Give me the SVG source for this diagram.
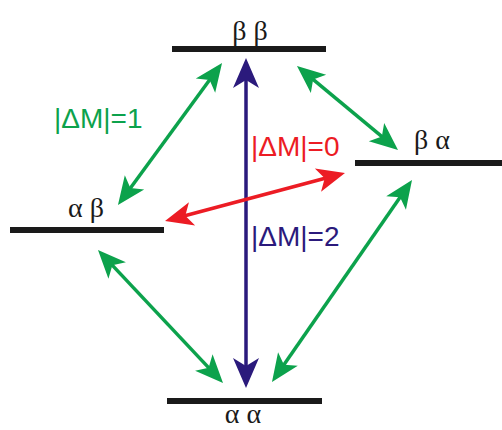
<svg xmlns="http://www.w3.org/2000/svg" width="502" height="430" viewBox="0 0 502 430">
<style>
.lvl{stroke:#1a1a1a;stroke-width:6;}
.st{font-family:"Liberation Serif",serif;font-size:28px;fill:#1a1a1a;text-anchor:middle;}
.lab{font-family:"Liberation Sans",Arial,sans-serif;font-size:28px;}
.g{stroke:#0ca24c;stroke-width:3.5;fill:none;marker-start:url(#mg);marker-end:url(#mg);}
.r{stroke:#ec1c24;stroke-width:3.5;fill:none;marker-start:url(#mr);marker-end:url(#mr);}
.b{stroke:#2b1a7c;stroke-width:3.5;fill:none;marker-start:url(#mb);marker-end:url(#mb);}
</style>
<defs>
<marker id="mg" markerUnits="userSpaceOnUse" markerWidth="28" markerHeight="24" refX="22" refY="12" orient="auto-start-reverse" overflow="visible"><path d="M28,12 L0,0 L7,12 L0,24 Z" fill="#0ca24c"/></marker>
<marker id="mr" markerUnits="userSpaceOnUse" markerWidth="28" markerHeight="24" refX="22" refY="12" orient="auto-start-reverse" overflow="visible"><path d="M28,12 L0,0 L7,12 L0,24 Z" fill="#ec1c24"/></marker>
<marker id="mb" markerUnits="userSpaceOnUse" markerWidth="30" markerHeight="26" refX="24" refY="13" orient="auto-start-reverse" overflow="visible"><path d="M30,13 L0,0 L8,13 L0,26 Z" fill="#2b1a7c"/></marker>
</defs>
<g id="connectors">
<line class="b" x1="246" y1="64" x2="246" y2="382"/>
<line class="g" x1="218.5" y1="67.8" x2="121.5" y2="200.2"/>
<line class="g" x1="301.6" y1="69.8" x2="393.4" y2="146.2"/>
<line class="g" x1="102.1" y1="254.4" x2="218.9" y2="378.6"/>
<line class="g" x1="408.6" y1="184.9" x2="275.4" y2="377.1"/>
<line class="r" x1="170.8" y1="219.5" x2="339.2" y2="174.5"/>
</g>
<g id="bb"><line class="lvl" x1="172" y1="49" x2="326" y2="49"/><text class="st" x="250" y="40">β β</text></g>
<g id="ab"><line class="lvl" x1="10" y1="230" x2="164" y2="230"/><text class="st" x="86" y="217">α β</text></g>
<g id="ba"><line class="lvl" x1="355" y1="163" x2="502" y2="163"/><text class="st" x="432" y="149">β α</text></g>
<g id="aa"><line class="lvl" x1="167" y1="401" x2="322" y2="401"/><text class="st" x="243" y="423">α α</text></g>
<g id="labels">
<text class="lab" x="54" y="128" fill="#0ca24c">|ΔM|=1</text>
<text class="lab" x="251" y="156" fill="#ec1c24">|ΔM|=0</text>
<text class="lab" x="251" y="246" fill="#2b1a7c">|ΔM|=2</text>
</g>
</svg>
